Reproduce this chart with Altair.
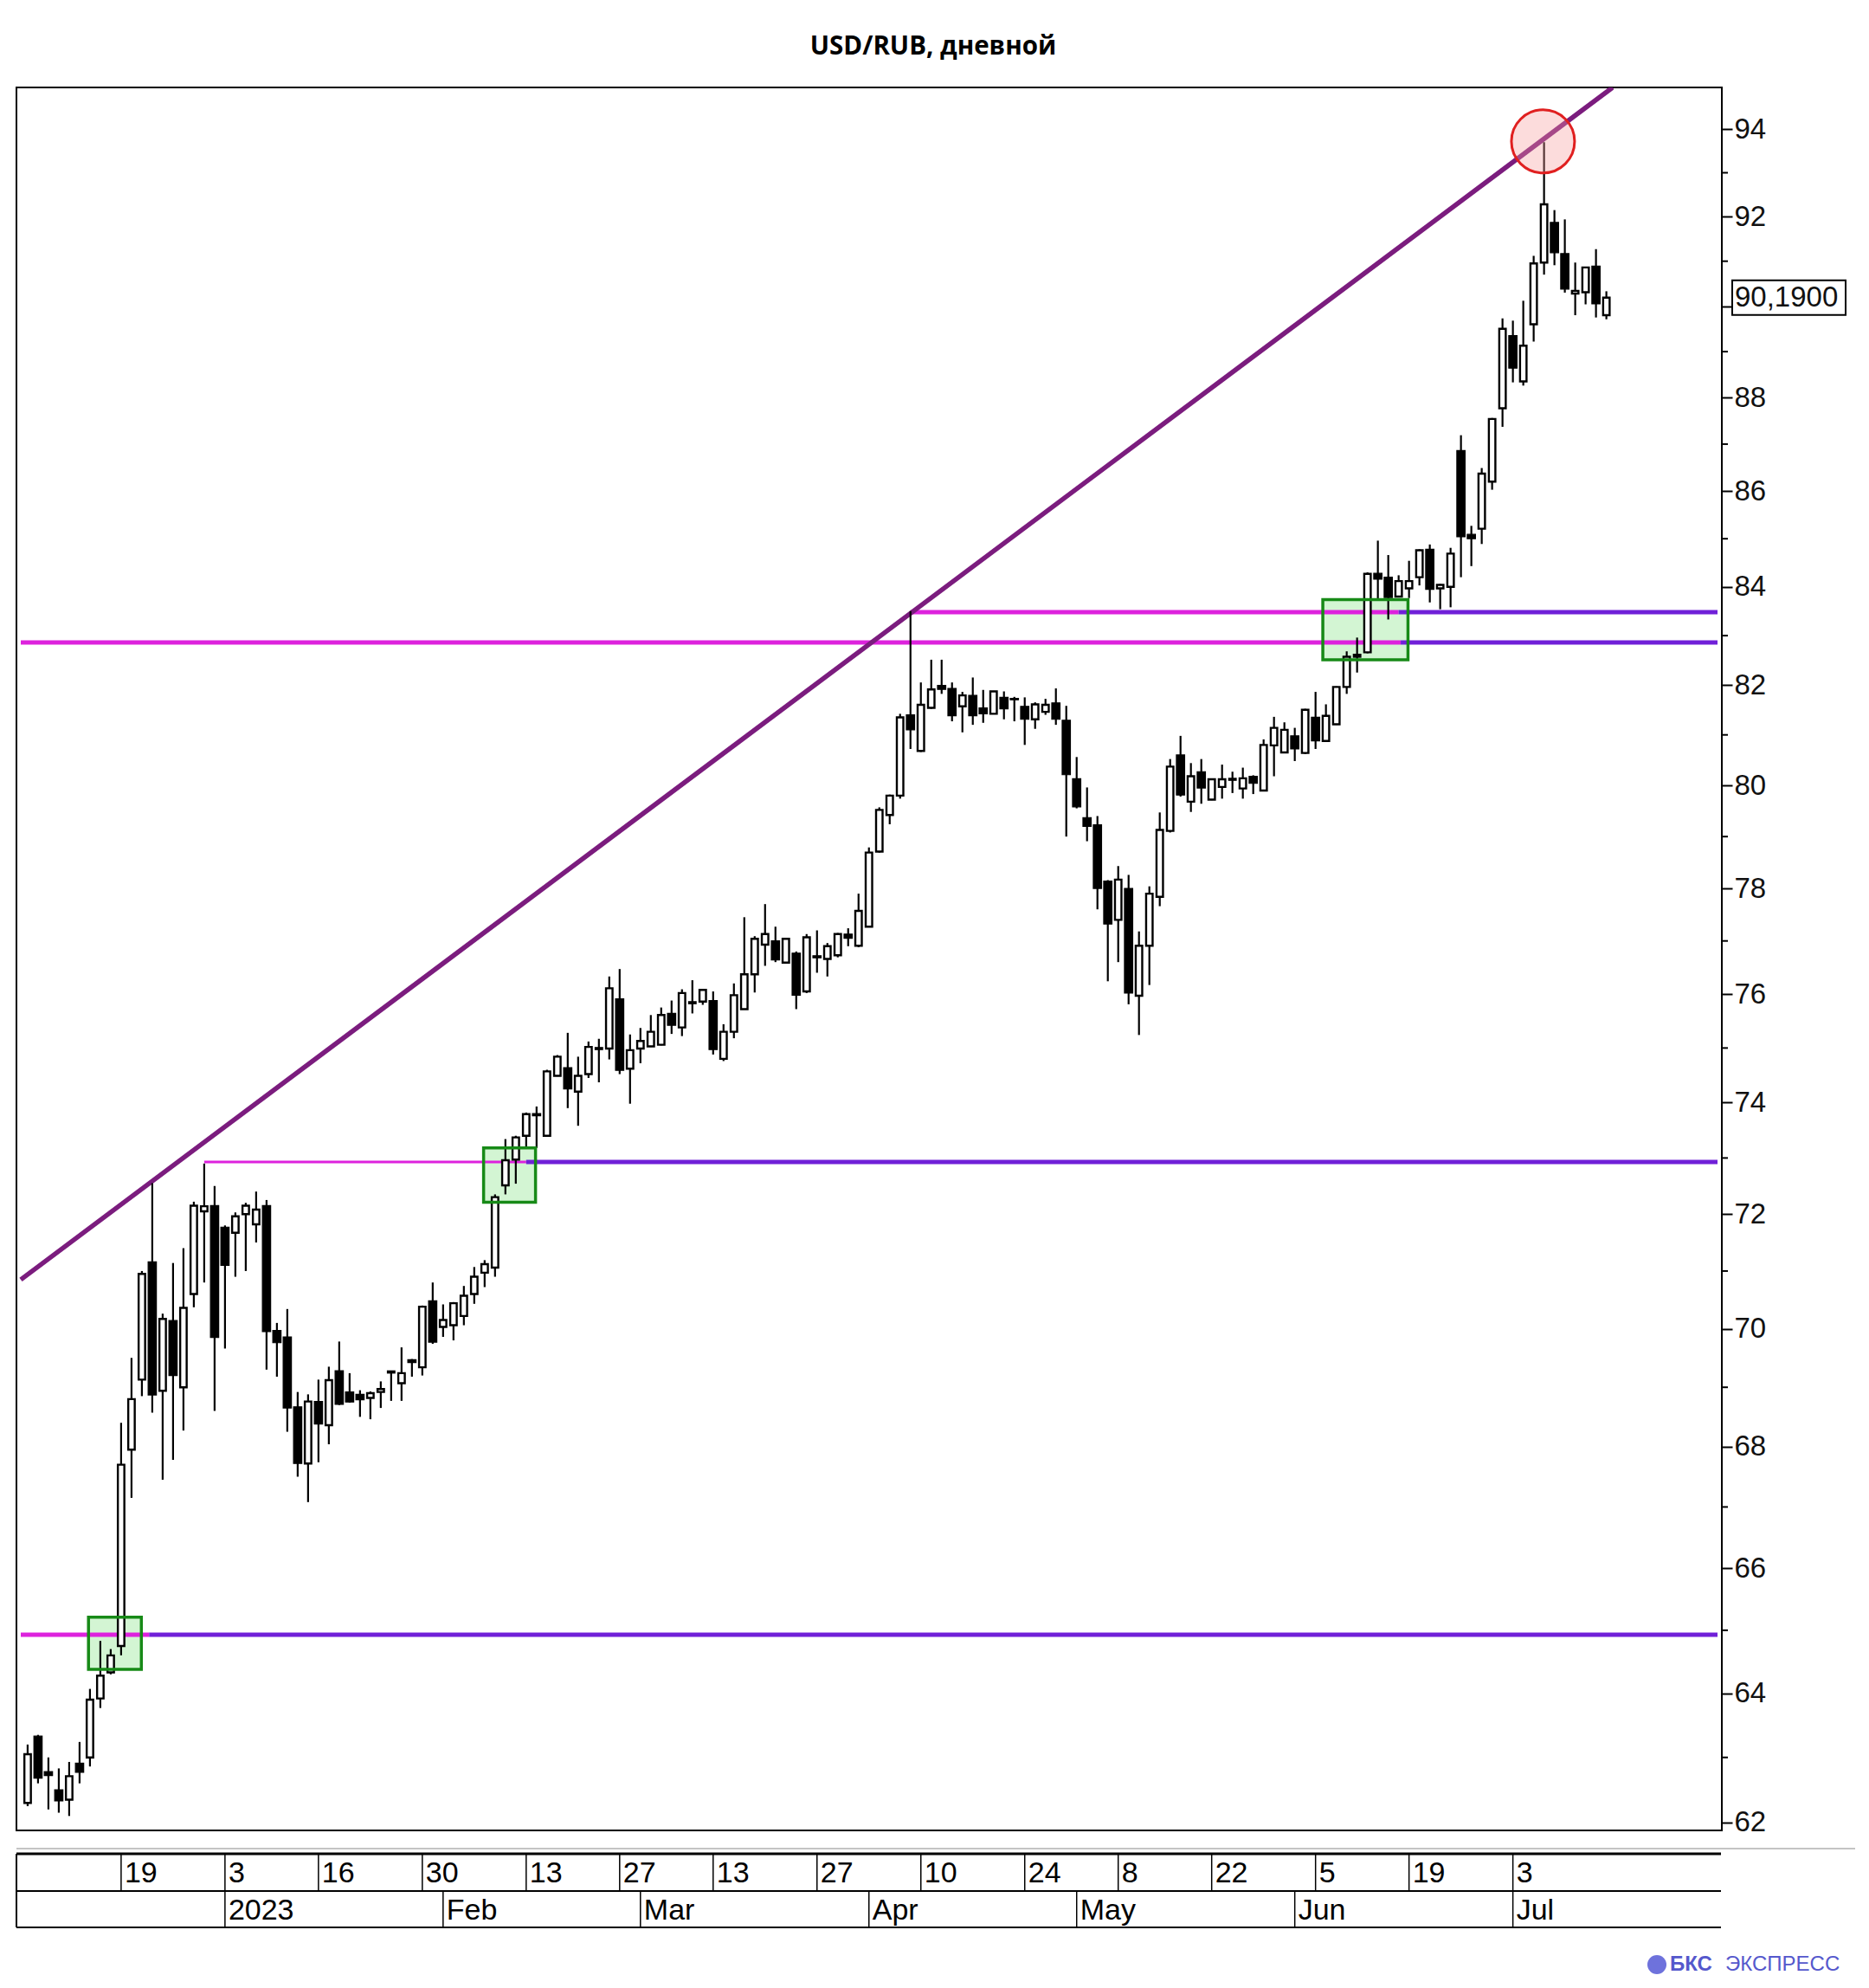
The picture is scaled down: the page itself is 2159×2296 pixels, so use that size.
import altair as alt
import pandas as pd

# ---------------- daily candles (index = trading day) ----------------
opens = [62.30, 63.33, 62.78, 62.50, 62.35, 62.91, 63.00, 63.92, 64.33, 64.75,
         67.95, 69.13, 71.16, 68.94, 70.14, 69.00, 70.60, 72.05, 72.15, 71.77,
         71.67, 72.00, 71.82, 72.15, 69.97, 69.86, 68.67, 67.72, 68.76, 68.36,
         69.28, 68.92, 68.88, 68.82, 68.92, 69.25, 69.07, 69.47, 69.34, 70.48,
         70.03, 70.06, 70.22, 70.60, 70.97, 71.06, 72.51, 72.97, 73.40, 73.80,
         73.40, 74.49, 74.64, 74.20, 74.52, 74.98, 74.99, 75.91, 74.62, 74.99,
         75.03, 75.06, 75.64, 75.38, 75.83, 75.86, 75.88, 74.80, 75.30, 75.72,
         76.37, 76.93, 77.00, 76.59, 76.77, 76.05, 76.72, 76.66, 76.73, 77.13,
         76.91, 77.27, 78.71, 79.42, 79.80, 81.40, 80.68, 81.54, 81.99, 81.93,
         81.57, 81.79, 81.54, 81.42, 81.75, 81.73, 81.57, 81.31, 81.46, 81.64,
         81.29, 80.13, 79.37, 79.23, 78.14, 77.40, 78.00, 75.97, 76.91, 77.84,
         79.11, 80.60, 79.68, 80.27, 79.72, 79.97, 80.11, 79.94, 80.18, 79.90,
         80.79, 80.65, 80.98, 80.64, 81.35, 80.88, 81.21, 81.96, 82.57, 82.66,
         84.28, 84.20, 83.80, 83.97, 84.20, 84.78, 83.97, 84.00, 86.86, 85.09,
         85.21, 86.20, 87.77, 89.35, 88.35, 89.60, 90.97, 91.87, 91.17, 90.28,
         90.31, 90.89, 89.80]
highs = [63.20, 63.35, 63.00, 62.83, 62.93, 63.24, 64.07, 64.83, 64.70, 68.40,
         69.50, 71.00, 72.55, 70.26, 71.14, 71.40, 72.22, 72.90, 72.50, 71.80,
         72.03, 72.20, 72.40, 72.25, 70.10, 70.34, 68.92, 68.88, 69.13, 69.35,
         69.78, 69.24, 68.95, 68.93, 69.10, 69.28, 69.68, 69.48, 70.40, 70.80,
         70.42, 70.46, 70.74, 71.07, 71.19, 72.35, 73.34, 73.40, 73.82, 73.93,
         74.60, 74.87, 75.28, 74.84, 75.12, 75.17, 76.33, 76.47, 75.25, 75.37,
         75.61, 75.75, 75.88, 76.09, 76.26, 76.09, 76.05, 75.44, 76.20, 77.45,
         77.09, 77.70, 77.27, 77.06, 76.80, 77.13, 77.20, 76.96, 77.15, 77.24,
         77.90, 78.79, 79.57, 79.82, 81.42, 83.50, 82.05, 82.51, 82.51, 82.05,
         81.86, 82.15, 81.90, 81.88, 81.87, 81.76, 81.75, 81.65, 81.72, 81.93,
         81.58, 80.56, 79.96, 79.40, 78.16, 78.43, 78.26, 77.18, 78.04, 79.47,
         80.52, 80.98, 80.44, 80.52, 80.13, 80.41, 80.27, 80.35, 80.20, 80.91,
         81.36, 81.25, 81.14, 81.52, 81.86, 81.61, 81.97, 82.68, 82.96, 84.30,
         84.96, 84.66, 84.24, 84.54, 84.78, 84.88, 84.06, 84.81, 87.19, 85.27,
         86.49, 87.56, 89.73, 89.68, 90.12, 91.12, 93.70, 92.15, 91.94, 90.97,
         90.87, 91.27, 90.33]
lows = [62.25, 62.60, 62.20, 62.15, 62.10, 62.60, 62.86, 63.77, 64.30, 64.60,
        67.15, 68.85, 68.57, 67.45, 67.78, 68.27, 70.37, 70.80, 68.60, 69.66,
        70.90, 71.00, 71.50, 69.30, 69.18, 68.25, 67.50, 67.08, 67.74, 68.04,
        68.70, 68.74, 68.50, 68.46, 68.65, 68.77, 68.77, 69.18, 69.20, 69.74,
        69.86, 69.80, 70.06, 70.43, 70.72, 70.90, 72.35, 72.54, 73.18, 73.18,
        73.38, 74.48, 73.90, 73.58, 74.45, 74.37, 74.79, 74.52, 73.98, 74.72,
        75.02, 75.05, 75.26, 75.22, 75.64, 75.80, 74.88, 74.76, 75.18, 75.72,
        76.03, 76.53, 76.60, 76.58, 75.72, 76.02, 76.40, 76.33, 76.69, 76.90,
        76.88, 77.26, 78.69, 79.24, 79.74, 80.72, 80.66, 81.52, 81.82, 81.27,
        81.05, 81.20, 81.24, 81.41, 81.31, 81.27, 80.80, 81.12, 81.40, 81.20,
        79.00, 79.55, 78.91, 77.60, 76.24, 76.60, 75.81, 75.24, 76.17, 77.66,
        79.08, 79.78, 79.48, 79.64, 79.71, 79.74, 79.85, 79.74, 79.83, 79.89,
        80.18, 80.64, 80.48, 80.62, 80.72, 80.87, 81.20, 81.82, 82.25, 82.64,
        83.74, 83.33, 83.79, 83.77, 84.03, 83.68, 83.54, 83.58, 84.20, 84.43,
        84.89, 86.03, 87.37, 88.33, 88.26, 89.22, 90.70, 90.91, 90.30, 89.80,
        90.04, 89.75, 89.71]
closes = [63.05, 62.68, 62.72, 62.33, 62.71, 62.77, 63.90, 64.28, 64.60, 67.70,
          68.80, 70.95, 68.87, 70.17, 69.20, 70.36, 72.15, 72.14, 69.85, 71.10,
          71.96, 72.15, 72.08, 69.95, 69.76, 68.65, 67.72, 68.76, 68.38, 69.12,
          68.71, 68.75, 68.79, 68.90, 68.97, 69.27, 69.24, 69.42, 70.38, 69.77,
          70.15, 70.44, 70.57, 70.90, 71.12, 72.30, 72.96, 73.37, 73.79, 73.76,
          74.57, 74.84, 74.25, 74.49, 75.02, 75.00, 76.11, 74.59, 74.96, 75.13,
          75.30, 75.61, 75.42, 76.02, 75.85, 76.08, 74.97, 75.30, 75.98, 76.37,
          77.04, 77.13, 76.64, 77.04, 75.98, 77.07, 76.68, 76.90, 77.13, 77.05,
          77.57, 78.69, 79.52, 79.80, 81.35, 81.10, 81.60, 81.91, 81.91, 81.38,
          81.79, 81.38, 81.42, 81.87, 81.52, 81.70, 81.31, 81.61, 81.60, 81.31,
          80.21, 79.58, 79.20, 78.00, 77.32, 78.17, 76.02, 76.91, 77.90, 79.13,
          80.37, 79.81, 80.18, 79.95, 80.12, 80.12, 80.13, 80.14, 80.04, 80.80,
          81.14, 81.10, 80.72, 81.50, 80.88, 81.38, 81.96, 82.57, 82.61, 84.27,
          84.16, 83.78, 84.12, 84.12, 84.76, 83.95, 84.04, 84.69, 85.04, 85.00,
          86.37, 87.54, 89.50, 88.64, 89.13, 90.95, 92.28, 91.19, 90.38, 90.34,
          90.86, 90.05, 90.19]

# ---------------- date table ----------------
day_ticks = [9, 19, 28, 38, 48, 57, 66, 76, 86, 96, 105, 114, 124, 133, 143]
day_labels = ["19", "3", "16", "30", "13", "27", "13", "27", "10", "24", "8", "22", "5", "19", "3"]
month_ticks = [19, 40, 59, 81, 101, 122, 143]
month_labels = ["2023", "Feb", "Mar", "Apr", "May", "Jun", "Jul"]

# ---------------- annotations ----------------
levels = [64.93, 72.93, 83.48, 82.86]
level_from = [-0.66, 17.0, 85.0, -0.66]
level_break = [11.7, 48.0, 132.0, 132.2]

trend_x = [-0.66, 152.6]
trend_y = [70.85, 94.97]

zone_x0 = [5.86, 43.9, 124.7]
zone_x1 = [10.95, 48.9, 132.9]
zone_lo = [64.38, 72.21, 82.51]
zone_hi = [65.21, 73.18, 83.74]

peak_x = [145.9]
peak_y = [93.72]

y_major = list(range(62, 95, 2))
y_minor = list(range(63, 94, 2))

title_text = "USD/RUB, дневной"

X_DOM = [-0.66, 162.7]
Y_DOM = [61.88, 94.97]
W, H = 1970, 2013

# ---------------- frames ----------------
n = len(opens)
candles = pd.DataFrame({"i": list(range(n)), "open": opens, "high": highs,
                        "low": lows, "close": closes})

seg_rows = []
for k in range(len(levels)):
    seg_rows.append({"level": levels[k], "x0": level_from[k], "x1": level_break[k], "phase": "до пробоя"})
    seg_rows.append({"level": levels[k], "x0": level_break[k], "x1": X_DOM[1], "phase": "после пробоя"})
segs = pd.DataFrame(seg_rows)

trend = pd.DataFrame({"x": trend_x, "y": trend_y})
zones = pd.DataFrame({"x0": zone_x0, "x1": zone_x1, "lo": zone_lo, "hi": zone_hi})
peak = pd.DataFrame({"x": peak_x, "y": peak_y})
last = pd.DataFrame({"price": [closes[-1]],
                     "label": [f"{closes[-1]:.4f}".replace(".", ",")]})
minor = pd.DataFrame({"v": y_minor})
days = pd.DataFrame({"i": day_ticks, "label": day_labels})
months = pd.DataFrame({"i": month_ticks, "label": month_labels})
one = pd.DataFrame({"t": [title_text]})

xs = alt.Scale(domain=X_DOM, nice=False, zero=False)
ys = alt.Scale(type="log", domain=Y_DOM, nice=False, zero=False)

yaxis = alt.Axis(orient="right", values=y_major, tickSize=12, tickWidth=2,
                 tickColor="black", domain=False, grid=False, title="",
                 labelFont="Liberation Sans", labelFontSize=33, labelColor="#111111",
                 labelPadding=2, labelOverlap=False, format="d",
                 labelExpr="datum.value == 90 ? '' : datum.label")


def X(f):
    return alt.X(f"{f}:Q", scale=xs, axis=None)


def Y(f):
    return alt.Y(f"{f}:Q", scale=ys, axis=yaxis)


MAGENTA = "#DD22DD"
PURPLE = "#7020D8"

zone_fill = alt.Chart(zones).mark_rect(fill="#D3F5D3", clip=True).encode(
    x=X("x0"), x2="x1", y=Y("lo"), y2="hi")

level_lines = alt.Chart(segs).mark_rule(clip=True).encode(
    x=X("x0"), x2="x1", y=Y("level"),
    color=alt.Color("phase:N", scale=alt.Scale(domain=["до пробоя", "после пробоя"],
                                               range=[MAGENTA, PURPLE]), legend=None),
    strokeWidth=alt.condition("datum.level == 72.93 && datum.phase == 'до пробоя'",
                              alt.value(3), alt.value(5)))

trend_line = alt.Chart(trend).mark_line(color="#7B1C7E", strokeWidth=5.5, clip=True).encode(
    x=X("x"), y=Y("y"))

wicks = alt.Chart(candles).mark_rule(color="black", strokeWidth=2.2).encode(
    x=X("i"), y=Y("low"), y2="high:Q")

up = alt.Chart(candles).transform_filter("datum.close >= datum.open").mark_bar(
    size=7.5, fill="white", stroke="black", strokeWidth=2.4).encode(
    x=X("i"), y=Y("open"), y2="close")

down = alt.Chart(candles).transform_filter("datum.close < datum.open").mark_bar(
    size=9.5, fill="black", stroke="black", strokeWidth=1.2).encode(
    x=X("i"), y=Y("open"), y2="close")

zone_edge = alt.Chart(zones).mark_rect(fillOpacity=0, stroke="#178A17", strokeWidth=3.5, clip=True).encode(
    x=X("x0"), x2="x1", y=Y("lo"), y2="hi")

peak_ring = alt.Chart(peak).mark_point(shape="circle", size=5329, filled=True, fill="#F59A9A",
                                       fillOpacity=0.35, stroke="#E02020", strokeWidth=3,
                                       opacity=1).encode(x=X("x"), y=Y("y"))

minor_ticks = alt.Chart(minor).mark_rule(color="black", strokeWidth=2).encode(
    x=alt.value(W), x2=alt.value(W + 7), y=Y("v"))

price_box = alt.Chart(last).mark_point(shape="M-1,-0.305H1V0.305H-1Z", size=17161, filled=True,
                                       fill="white", stroke="black", strokeWidth=2,
                                       opacity=1).encode(x=alt.value(2047.5), y=Y("price"))
price_text = alt.Chart(last).mark_text(align="left", baseline="middle", font="Liberation Sans",
                                       fontSize=33, color="#111111").encode(
    x=alt.value(1985), y=Y("price"), text="label:N")

# ---------------- date table ----------------
ROW1, ROW2, ROW3 = 2040, 2083, 2125
gray_line = alt.Chart(one).mark_rule(color="#C4C4C4", strokeWidth=2).encode(
    x=alt.value(0), x2=alt.value(2124), y=alt.value(2034))
t_top = alt.Chart(one).mark_rule(color="black", strokeWidth=3).encode(
    x=alt.value(0), x2=alt.value(W - 1), y=alt.value(ROW1))
t_mid = alt.Chart(one).mark_rule(color="black", strokeWidth=2).encode(
    x=alt.value(0), x2=alt.value(W - 1), y=alt.value(ROW2))
t_bot = alt.Chart(one).mark_rule(color="black", strokeWidth=2).encode(
    x=alt.value(0), x2=alt.value(W - 1), y=alt.value(ROW3))
t_left = alt.Chart(one).mark_rule(color="black", strokeWidth=2).encode(
    x=alt.value(0), y=alt.value(ROW1), y2=alt.value(ROW3))
day_sep = alt.Chart(days).mark_rule(color="black", strokeWidth=1.5).encode(
    x=X("i"), y=alt.value(ROW1), y2=alt.value(ROW2))
month_sep = alt.Chart(months).mark_rule(color="black", strokeWidth=1.5).encode(
    x=X("i"), y=alt.value(ROW2), y2=alt.value(ROW3))
day_txt = alt.Chart(days).mark_text(align="left", baseline="middle", dx=4, font="Liberation Sans",
                                    fontSize=34, color="black").encode(
    x=X("i"), y=alt.value(2063), text="label:N")
month_txt = alt.Chart(months).mark_text(align="left", baseline="middle", dx=4, font="Liberation Sans",
                                        fontSize=34, color="black").encode(
    x=X("i"), y=alt.value(2106), text="label:N")

# ---------------- title & footer ----------------
title = alt.Chart(one).mark_text(align="center", baseline="middle", font="Open Sans",
                                 fontWeight="bold", fontSize=29.5, color="black").encode(
    x=alt.value(1059), y=alt.value(-47), text="t:N")
logo_dot = alt.Chart(one).mark_point(shape="circle", size=484, filled=True, fill="#6E72DC",
                                     opacity=1, strokeWidth=0).encode(
    x=alt.value(1895), y=alt.value(2168))
logo_a = alt.Chart(pd.DataFrame({"t": ["БКС"]})).mark_text(
    align="left", baseline="middle", font="Liberation Sans", fontWeight="bold",
    fontSize=24, color="#5558CC").encode(x=alt.value(1910), y=alt.value(2168), text="t:N")
logo_b = alt.Chart(pd.DataFrame({"t": ["ЭКСПРЕСС"]})).mark_text(
    align="left", baseline="middle", font="Liberation Sans",
    fontSize=24, color="#5558CC").encode(x=alt.value(1974), y=alt.value(2168), text="t:N")

chart = alt.layer(
    zone_fill, level_lines, trend_line, wicks, up, down, zone_edge, peak_ring,
    minor_ticks, price_box, price_text,
    gray_line, t_top, t_mid, t_bot, t_left, day_sep, month_sep, day_txt, month_txt,
    title, logo_dot, logo_a, logo_b
).properties(
    width=W, height=H,
    background="white",
    autosize=alt.AutoSizeParams(type="none"),
    padding={"left": 11, "top": 93, "right": 162, "bottom": 172},
).configure_view(stroke="black", strokeWidth=2)

chart.save("out.html", embed_options={"renderer": "svg", "actions": False})
